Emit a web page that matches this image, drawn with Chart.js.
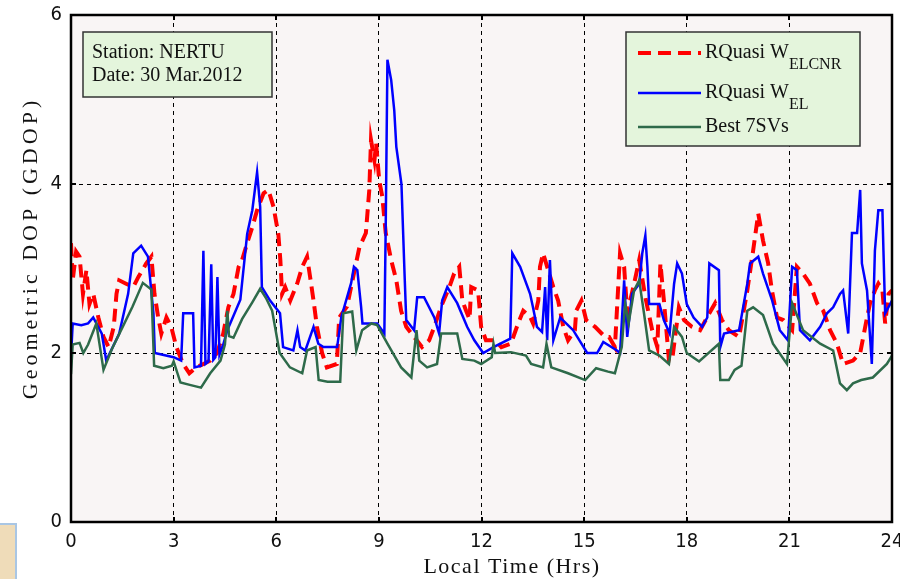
<!DOCTYPE html>
<html>
<head>
<meta charset="utf-8">
<script src="https://cdn.jsdelivr.net/npm/chart.js@4.4.1/dist/chart.umd.min.js"></script>
<style>
    html, body { margin: 0; padding: 0; background: #fff; }
    #wrap { position: relative; width: 900px; height: 579px; }
</style>
</head>
<body>
<div id="wrap"><canvas id="gdopChart"></canvas></div>
<script>
// [local time (hrs), GDOP]
const rquasiElcnr = [
    [0,3.3],[0.05,2.86],[0.15,3.2],[0.25,3.14],[0.35,2.7],[0.45,2.98],[0.54,2.58],[0.65,2.7],[0.8,2.42],
    [0.95,2.19],[1.1,2.07],[1.25,2.31],[1.33,2.7],[1.41,2.86],[1.61,2.82],[1.82,2.78],[1.97,2.9],[2.2,3.06],
    [2.35,3.14],[2.44,2.7],[2.55,2.42],[2.64,2.23],[2.79,2.42],[2.93,2.31],[3.08,2.07],[3.28,1.87],[3.46,1.76],
    [3.66,1.83],[3.87,1.87],[4.07,1.91],[4.27,2.0],[4.45,2.23],[4.6,2.54],[4.75,2.7],[4.9,3.02],[5.0,3.1],
    [5.15,3.3],[5.3,3.49],[5.44,3.69],[5.63,3.89],[5.77,3.93],[5.92,3.73],[6.06,3.41],[6.12,3.1],[6.17,2.7],
    [6.26,2.78],[6.41,2.62],[6.61,2.82],[6.76,3.02],[6.9,3.14],[6.99,2.9],[7.09,2.62],[7.19,2.31],[7.34,2.0],
    [7.48,1.83],[7.77,1.87],[7.84,2.42],[8.07,2.55],[8.27,2.94],[8.43,3.25],[8.62,3.42],[8.72,3.93],[8.77,4.52],
    [8.87,4.28],[8.92,4.48],[9.01,4.04],[9.1,3.85],[9.2,3.42],[9.36,3.1],[9.51,2.86],[9.65,2.5],[9.8,2.31],
    [10.03,2.19],[10.26,2.07],[10.47,2.15],[10.62,2.31],[10.82,2.55],[11.06,2.78],[11.2,2.94],[11.35,3.02],
    [11.44,2.62],[11.55,2.5],[11.65,2.4],[11.7,2.78],[11.9,2.74],[11.99,2.31],[12.13,2.15],[12.4,2.15],
    [12.58,2.07],[12.86,2.11],[13.07,2.35],[13.22,2.5],[13.42,2.43],[13.51,2.35],[13.66,2.62],[13.71,3.02],
    [13.8,3.18],[13.95,2.98],[14.1,2.78],[14.24,2.62],[14.39,2.31],[14.53,2.15],[14.73,2.27],[14.77,2.5],
    [14.92,2.62],[15.06,2.39],[15.32,2.31],[15.61,2.19],[15.73,2.19],[15.9,2.07],[16.05,3.18],[16.17,3.02],
    [16.26,2.47],[16.45,2.8],[16.61,3.1],[16.79,2.66],[16.99,2.27],[17.14,2.07],[17.23,3.06],[17.33,2.63],
    [17.48,1.91],[17.57,1.91],[17.77,2.54],[17.92,2.39],[18.15,2.31],[18.39,2.27],[18.66,2.47],[18.83,2.59],
    [19.03,2.39],[19.23,2.27],[19.53,2.19],[19.77,2.74],[19.94,3.21],[20.09,3.65],[20.23,3.33],[20.38,3.06],
    [20.49,2.74],[20.64,2.42],[20.82,2.39],[21.08,2.27],[21.22,3.02],[21.4,2.94],[21.6,2.82],[21.81,2.59],
    [21.99,2.5],[22.19,2.27],[22.39,2.11],[22.57,1.87],[22.86,1.91],[23.07,2.0],[23.27,2.42],[23.36,2.59],
    [23.5,2.74],[23.6,2.82],[23.72,2.74],[23.8,2.35],[23.9,2.7],[24,2.74]
];

const rquasiEl = [
    [0,1.95],[0.05,2.35],[0.3,2.33],[0.5,2.35],[0.65,2.42],[0.9,2.23],[1.03,1.91],[1.41,2.23],[1.67,2.7],
    [1.82,3.18],[2.05,3.27],[2.25,3.14],[2.41,2.47],[2.45,2.0],[3.0,1.95],[3.22,1.91],[3.28,2.47],[3.57,2.47],
    [3.61,1.83],[3.8,1.85],[3.87,3.21],[3.93,1.87],[4.02,1.9],[4.1,3.05],[4.16,1.92],[4.22,1.95],[4.28,2.9],
    [4.34,1.98],[4.45,2.1],[4.57,2.27],[4.95,2.63],[5.15,3.41],[5.3,3.69],[5.44,4.14],[5.53,3.73],[5.58,2.78],
    [5.82,2.62],[6.11,2.47],[6.2,2.07],[6.5,2.03],[6.62,2.27],[6.7,2.07],[6.85,2.03],[7.09,2.31],[7.23,2.11],
    [7.38,2.07],[7.78,2.07],[7.9,2.42],[8.19,2.83],[8.27,3.02],[8.37,2.98],[8.48,2.55],[8.52,2.35],[8.95,2.35],
    [9.16,2.23],[9.2,3.49],[9.25,5.47],[9.36,5.23],[9.45,4.87],[9.51,4.44],[9.66,4.0],[9.75,2.94],[9.8,2.39],
    [10.03,2.27],[10.12,2.66],[10.32,2.66],[10.62,2.42],[10.76,2.23],[10.85,2.62],[11.0,2.78],[11.29,2.59],
    [11.58,2.31],[11.79,2.15],[12.05,2.0],[12.35,2.07],[12.84,2.17],[12.9,3.18],[13.13,3.02],[13.42,2.7],
    [13.5,2.55],[13.62,2.31],[13.77,2.25],[13.86,2.78],[13.92,2.15],[14.0,3.1],[14.1,2.15],[14.3,2.42],
    [14.68,2.27],[14.8,2.19],[15.09,2.0],[15.38,2.0],[15.56,2.13],[15.96,2.03],[16.05,2.0],[16.17,2.86],
    [16.26,2.19],[16.4,2.7],[16.61,2.82],[16.7,3.18],[16.79,3.39],[16.85,3.02],[16.9,2.58],[17.2,2.58],
    [17.33,2.39],[17.5,2.23],[17.63,2.82],[17.72,3.06],[17.86,2.94],[18.0,2.58],[18.2,2.42],[18.45,2.31],
    [18.6,2.42],[18.66,3.06],[18.94,2.98],[18.98,2.07],[19.09,2.23],[19.53,2.27],[19.77,2.82],[19.85,3.06],
    [20.09,3.14],[20.23,2.94],[20.49,2.63],[20.72,2.27],[20.96,2.15],[21.08,3.02],[21.22,2.98],[21.31,2.27],
    [21.6,2.15],[21.9,2.31],[22.1,2.47],[22.28,2.54],[22.48,2.7],[22.57,2.74],[22.72,2.23],[22.83,3.42],
    [22.98,3.42],[23.07,3.93],[23.12,3.06],[23.27,2.74],[23.41,1.87],[23.5,3.21],[23.6,3.69],[23.72,3.69],
    [23.75,3.21],[23.8,2.47],[24,2.62]
];

const best7 = [
    [0,1.75],[0.05,2.1],[0.25,2.12],[0.36,2.0],[0.5,2.1],[0.74,2.35],[0.95,1.8],[1.2,2.05],[1.5,2.3],
    [1.8,2.55],[2.1,2.83],[2.35,2.75],[2.43,1.85],[2.7,1.82],[2.95,1.85],[3.0,1.9],[3.2,1.65],[3.5,1.62],
    [3.8,1.59],[4.07,1.76],[4.37,1.91],[4.5,2.1],[4.57,2.5],[4.62,2.2],[4.75,2.18],[5.0,2.4],[5.3,2.6],
    [5.53,2.76],[5.7,2.65],[5.88,2.5],[6.1,2.0],[6.4,1.83],[6.76,1.76],[6.9,2.03],[7.15,2.07],[7.24,1.68],
    [7.5,1.66],[7.87,1.66],[7.96,2.47],[8.22,2.49],[8.34,2.03],[8.51,2.27],[8.78,2.35],[8.95,2.33],
    [9.25,2.11],[9.65,1.83],[9.95,1.71],[10.1,2.27],[10.18,1.91],[10.41,1.83],[10.7,1.87],[10.82,2.23],
    [11.29,2.23],[11.44,1.93],[11.79,1.91],[11.99,1.87],[12.3,1.95],[12.35,2.11],[12.4,2.0],[12.86,2.01],
    [13.3,1.97],[13.45,1.87],[13.8,1.83],[13.9,2.11],[14.04,1.83],[14.53,1.76],[15.03,1.68],[15.35,1.82],
    [15.7,1.78],[15.9,1.76],[16.1,2.07],[16.2,2.59],[16.3,2.35],[16.46,2.74],[16.61,2.86],[16.75,2.47],
    [16.9,2.03],[17.2,1.97],[17.48,1.87],[17.63,2.31],[17.86,2.19],[18.0,2.0],[18.36,1.9],[18.94,2.11],
    [18.98,1.68],[19.23,1.68],[19.4,1.8],[19.6,1.85],[19.77,2.5],[19.94,2.54],[20.23,2.45],[20.52,2.11],
    [20.93,1.87],[21.08,2.59],[21.4,2.27],[21.9,2.11],[22.28,2.03],[22.48,1.64],[22.68,1.56],[22.86,1.64],
    [23.1,1.68],[23.44,1.71],[23.85,1.87],[24,1.97]
];

const xTicks = [0, 3, 6, 9, 12, 15, 18, 21, 24];
const yTicks = [0, 2, 4, 6];
const seriesNames = ["RQuasi W", "RQuasi W", "Best 7SVs"];
const seriesSubs = ["ELCNR", "EL", ""];
const infoLines = ["Station: NERTU", "Date: 30 Mar.2012"];
const xTitle = "Local Time (Hrs)";
const yTitle = "Geometric DOP (GDOP)";

const SERIF = '"Liberation Serif", "Times New Roman", serif';
const TICK_FONT = { family: '"Liberation Sans Narrow", "DejaVu Sans Condensed", "Liberation Sans", sans-serif', size: 20 };

function toPoints(pairs) {
    return pairs.map(p => ({ x: p[0], y: p[1] }));
}

// frame, inward ticks, titles, text box, legend (with subscripts)
const decorPlugin = {
    id: "decor",
    beforeDraw(chart) {
        const { ctx, chartArea: a } = chart;
        ctx.save();
        ctx.fillStyle = "#f9f5f5";
        ctx.fillRect(a.left, a.top, a.right - a.left, a.bottom - a.top);
        // bit of a neighbouring panel showing at the bottom-left corner
        ctx.fillStyle = "#efdcb9";
        ctx.fillRect(0, 524, 16, 55);
        ctx.strokeStyle = "#a9c6e4";
        ctx.lineWidth = 2;
        ctx.strokeRect(-2, 524, 18, 60);
        ctx.restore();
    },
    afterDraw(chart) {
        const { ctx, chartArea: a, scales } = chart;
        ctx.save();

        // inward tick marks
        ctx.strokeStyle = "#000";
        ctx.lineWidth = 2;
        ctx.beginPath();
        xTicks.forEach(t => {
            const px = Math.round(scales.x.getPixelForValue(t));
            ctx.moveTo(px, a.bottom); ctx.lineTo(px, a.bottom - 5);
            ctx.moveTo(px, a.top); ctx.lineTo(px, a.top + 5);
        });
        yTicks.forEach(t => {
            const py = Math.round(scales.y.getPixelForValue(t));
            ctx.moveTo(a.left, py); ctx.lineTo(a.left + 5, py);
            ctx.moveTo(a.right, py); ctx.lineTo(a.right - 5, py);
        });
        ctx.stroke();
        ctx.lineWidth = 2.5;
        ctx.strokeRect(a.left, a.top, a.right - a.left, a.bottom - a.top);

        // axis titles
        ctx.fillStyle = "#111";
        ctx.textBaseline = "middle";
        ctx.textAlign = "center";
        ctx.font = "22px " + SERIF;
        ctx.letterSpacing = "1.5px";
        ctx.fillText(xTitle, 512, 567);
        ctx.save();
        ctx.translate(31, 248);
        ctx.rotate(-Math.PI / 2);
        ctx.letterSpacing = "4px";
        ctx.fillText(yTitle, 0, 0);
        ctx.restore();
        ctx.letterSpacing = "0px";

        // station / date box
        ctx.fillStyle = "#e4f5dc";
        ctx.fillRect(83, 32, 189, 65);
        ctx.strokeStyle = "#333";
        ctx.lineWidth = 1.5;
        ctx.strokeRect(83, 32, 189, 65);
        ctx.fillStyle = "#111";
        ctx.textAlign = "left";
        ctx.font = "20px " + SERIF;
        ctx.fillText(infoLines[0], 92, 53);
        ctx.fillText(infoLines[1], 92, 76);

        // legend
        ctx.fillStyle = "#e4f5dc";
        ctx.fillRect(626, 32, 234, 114);
        ctx.strokeRect(626, 32, 234, 114);
        const rows = [53, 93, 127];
        chart.data.datasets.forEach((ds, i) => {
            const y = rows[i];
            ctx.strokeStyle = ds.borderColor;
            ctx.lineWidth = ds.borderWidth;
            ctx.setLineDash(ds.borderDash || []);
            ctx.beginPath();
            ctx.moveTo(638, y);
            ctx.lineTo(701, y);
            ctx.stroke();
            ctx.setLineDash([]);
            ctx.fillStyle = "#111";
            ctx.font = "20px " + SERIF;
            ctx.fillText(seriesNames[i], 705, y);
            if (seriesSubs[i]) {
                const w = ctx.measureText(seriesNames[i]).width;
                ctx.font = "16px " + SERIF;
                ctx.fillText(seriesSubs[i], 705 + w, y + 12);
            }
        });
        ctx.restore();
    }
};

new Chart(document.getElementById("gdopChart"), {
    type: "line",
    data: {
        datasets: [
            {
                label: "RQuasi W_ELCNR",
                data: toPoints(rquasiElcnr),
                borderColor: "#ff0000",
                borderWidth: 4,
                borderDash: [13, 7],
                order: 3
            },
            {
                label: "RQuasi W_EL",
                data: toPoints(rquasiEl),
                borderColor: "#0000ff",
                borderWidth: 2.5,
                order: 2
            },
            {
                label: "Best 7SVs",
                data: toPoints(best7),
                borderColor: "#2e6a4a",
                borderWidth: 2.5,
                order: 1
            }
        ]
    },
    options: {
        responsive: true,
        maintainAspectRatio: false,
        animation: false,
        elements: { point: { radius: 0 }, line: { tension: 0, fill: false } },
        layout: { padding: { top: 15, right: 8, left: 0, bottom: 0 } },
        plugins: { legend: { display: false }, tooltip: { enabled: false } },
        scales: {
            x: {
                type: "linear",
                min: 0,
                max: 24,
                afterBuildTicks: s => { s.ticks = xTicks.map(v => ({ value: v })); },
                afterFit: s => { s.height = 57; s.paddingLeft = 0; s.paddingRight = 0; },
                ticks: { font: TICK_FONT, color: "#111", padding: 8, maxRotation: 0, autoSkip: false },
                grid: { color: "#000", lineWidth: 1, drawTicks: false },
                border: { display: false, dash: [4, 4] }
            },
            y: {
                min: 0,
                max: 6,
                afterBuildTicks: s => { s.ticks = yTicks.map(v => ({ value: v })); },
                afterFit: s => { s.width = 71; s.paddingTop = 0; s.paddingBottom = 0; },
                ticks: { font: TICK_FONT, color: "#111", padding: 9 },
                grid: { color: "#000", lineWidth: 1, drawTicks: false },
                border: { display: false, dash: [4, 4] }
            }
        }
    },
    plugins: [decorPlugin]
});
</script>
</body>
</html>
